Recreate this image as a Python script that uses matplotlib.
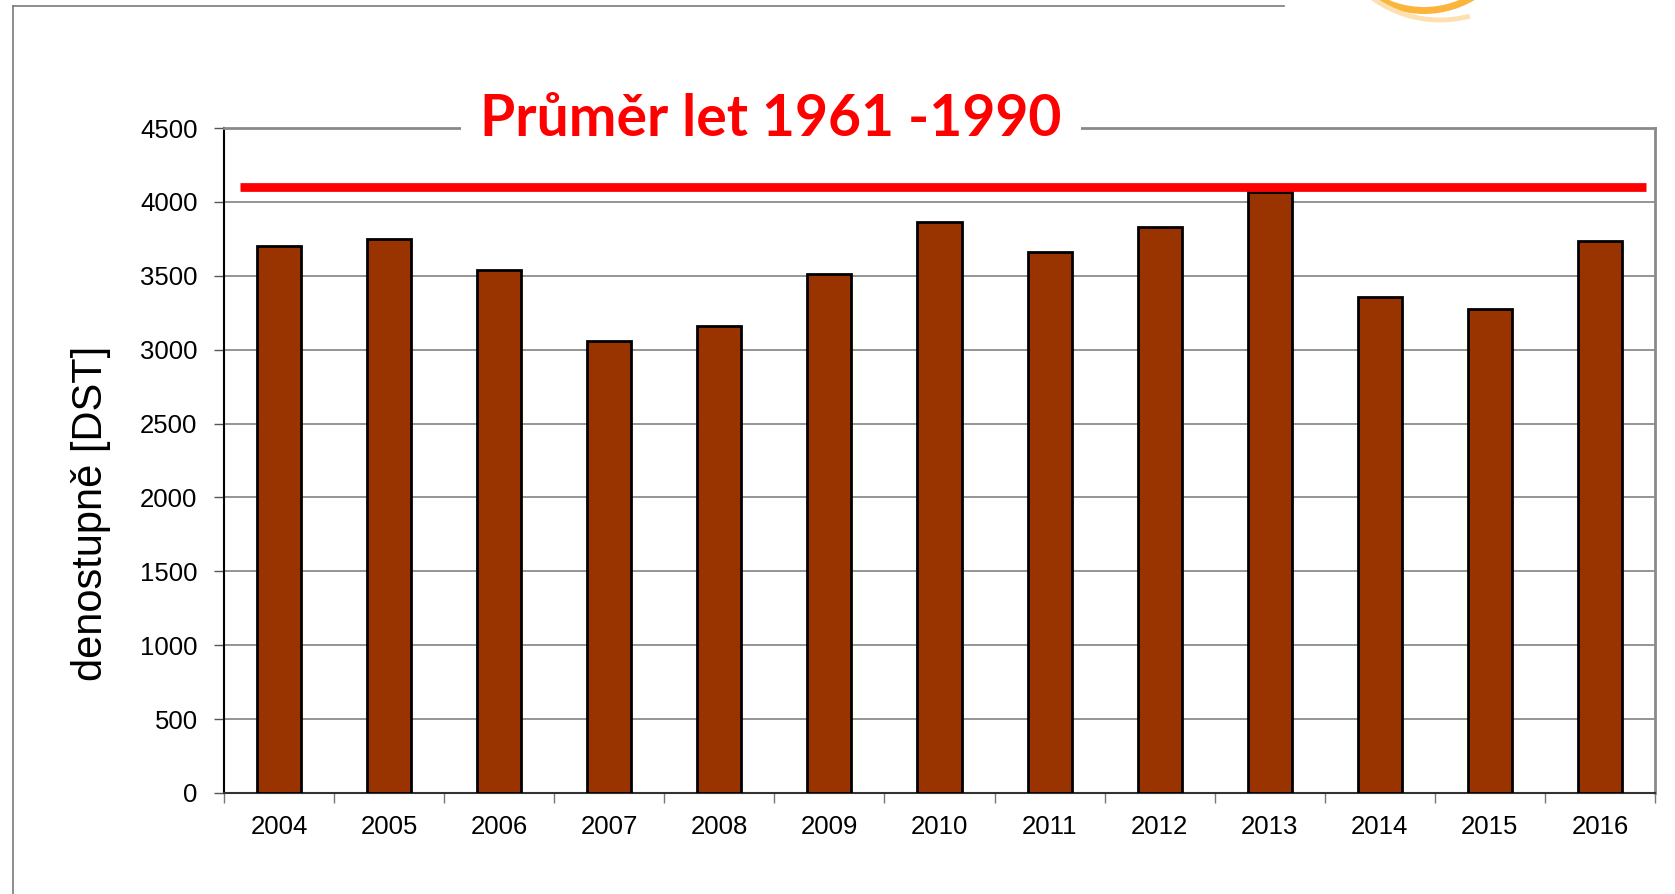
import numpy as np
import matplotlib
matplotlib.use('Agg')
from matplotlib import pyplot as plt
from matplotlib.patches import Arc
from matplotlib.lines import Line2D

# data
roky = ['2004', '2005', '2006', '2007', '2008', '2009', '2010',
        '2011', '2012', '2013', '2014', '2015', '2016']
dst = [3704, 3749, 3536, 3056, 3158, 3509, 3862,
       3663, 3830, 4067, 3357, 3274, 3737]
prumer = 4100  # prumer let 1961-1990
yticks = [0, 500, 1000, 1500, 2000, 2500, 3000, 3500, 4000, 4500]

W, H = 1675, 894
plt.rcParams['font.family'] = ['Liberation Sans', 'DejaVu Sans']
fig = plt.figure(figsize=(W / 100, H / 100), dpi=100)

# ramecek snimku (levy a horni okraj)
fig.add_artist(Line2D([13 / W, 13 / W], [0, 1 - 5.5 / H], color='#7a7a7a', lw=1.2))
fig.add_artist(Line2D([13 / W, 1284 / W], [1 - 5.5 / H, 1 - 5.5 / H], color='#7a7a7a', lw=1.2))

# kousek loga vpravo nahore
logo = fig.add_axes([1280 / W, 1 - 60 / H, 250 / W, 60 / H])
logo.set_xlim(1280, 1530)
logo.set_ylim(60, 0)
logo.set_aspect('equal')
logo.axis('off')
logo.add_patch(Arc((1424, -84.5), 190, 190, theta1=55, theta2=125, color='#fbb43c', lw=5))
logo.add_patch(Arc((1440, -95), 230, 230, theta1=75, theta2=140, color='#fde0b0', lw=3.5))

ax = fig.add_axes([224 / W, 101 / H, 1431 / W, 665 / H])
x = np.arange(len(roky))
ax.bar(x, dst, width=0.4, color='#993300', edgecolor='black', linewidth=2, zorder=3)
ax.axhline(prumer, xmin=0.011, xmax=0.994, color='#ff0000', lw=6.3,
           solid_capstyle='butt', zorder=4)

ax.set_xlim(-0.5, len(roky) - 0.5)
ax.set_ylim(0, 4500)
ax.set_yticks(yticks)
ax.set_yticklabels([str(v) for v in yticks])
ax.yaxis.grid(True, color='#8c8c8c', lw=1.3, zorder=0)
ax.set_axisbelow(True)

# x: carky na hranicich kategorii, popisky uprostred
ax.set_xticks(np.arange(-0.5, len(roky), 1.0))
ax.set_xticklabels([])
ax.set_xticks(x, minor=True)
ax.set_xticklabels(roky, minor=True)
ax.tick_params(axis='x', which='major', length=7, width=1, color='#777777')
ax.tick_params(axis='x', which='minor', length=0, pad=16, labelsize=18.5)
ax.tick_params(axis='y', length=7, width=1, color='#555555', pad=12, labelsize=18.5)

for s in ['top', 'right']:
    ax.spines[s].set_color('#8a8a8a')
    ax.spines[s].set_linewidth(2)
ax.spines['left'].set_color('black')
ax.spines['left'].set_linewidth(1.5)
ax.spines['bottom'].set_color('#333333')
ax.spines['bottom'].set_linewidth(1.5)

ax.set_ylabel('denostupně [DST]', fontsize=30, va='center')
ax.yaxis.set_label_coords(-0.093, 0.421)

ax.text(0.382, 0.988, 'Průměr let 1961 -1990', transform=ax.transAxes,
        ha='center', va='baseline', color='#ff0000', fontsize=41,
        fontweight='bold', family=['Lato', 'DejaVu Sans'],
        bbox=dict(facecolor='white', edgecolor='none', pad=14), zorder=5)

fig.savefig('out.png', dpi=100)
